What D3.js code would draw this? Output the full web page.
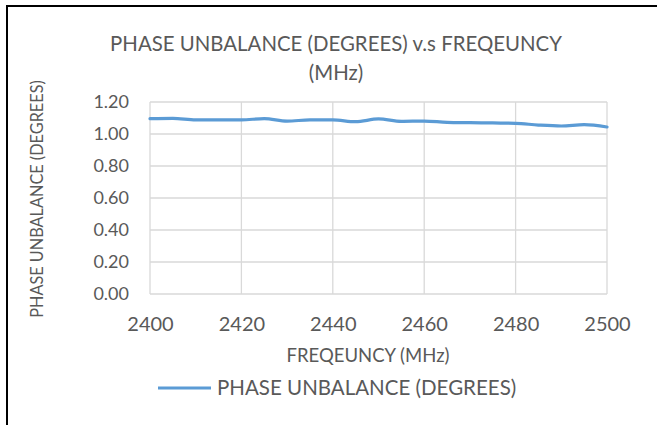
<!DOCTYPE html>
<html><head><meta charset="utf-8">
<script src="https://cdn.jsdelivr.net/npm/d3@7/dist/d3.min.js"></script>
<style>
html,body{margin:0;padding:0;background:#fff;}
svg{display:block;font-family:Lato,"Open Sans",sans-serif;}
</style></head>
<body><svg id="c" width="657" height="425"></svg>
<script>
const frequencies = [2400,2405,2410,2415,2420,2425,2430,2435,2440,2445,2450,2455,2460,2465,2470,2475,2480,2485,2490,2495,2500];
const phaseUnbalance = [1.096,1.098,1.088,1.088,1.088,1.096,1.081,1.088,1.088,1.077,1.094,1.079,1.081,1.073,1.071,1.069,1.067,1.056,1.050,1.058,1.044];
const xTicks = [2400,2420,2440,2460,2480,2500];
const yTicks = [0,0.2,0.4,0.6,0.8,1.0,1.2];
const titleLines = ["PHASE UNBALANCE (DEGREES) v.s FREQEUNCY","(MHz)"];
const xTitle = "FREQEUNCY (MHz)";
const yTitle = "PHASE UNBALANCE (DEGREES)";
const seriesName = "PHASE UNBALANCE (DEGREES)";

const svg = d3.select("#c");
const textColor = "#595959";
const lineColor = "#5b9bd5";
const gridColor = "#d9d9d9";

// frame
svg.append("rect").attr("x",7).attr("y",6).attr("width",700).attr("height",500)
  .attr("fill","none").attr("stroke","#000").attr("stroke-width",2);

const m = {left:150, right:607, top:102, bottom:294};
const x = d3.scaleLinear().domain([2400,2500]).range([m.left,m.right]);
const y = d3.scaleLinear().domain([0,1.2]).range([m.bottom,m.top]);

// grid
svg.append("g").selectAll("line").data(yTicks).join("line")
  .attr("x1",m.left).attr("x2",m.right).attr("y1",d=>y(d)).attr("y2",d=>y(d))
  .attr("stroke",gridColor).attr("stroke-width",1.3);
svg.append("g").selectAll("line").data(xTicks).join("line")
  .attr("x1",d=>x(d)).attr("x2",d=>x(d)).attr("y1",m.top).attr("y2",m.bottom)
  .attr("stroke",gridColor).attr("stroke-width",1.3);

// axes (labels only)
const yAxis = d3.axisLeft(y).tickValues(yTicks).tickFormat(d3.format(".2f")).tickSize(0).tickPadding(21);
const gy = svg.append("g").attr("transform",`translate(${m.left},0)`).call(yAxis);
gy.select(".domain").remove();
gy.selectAll("text").attr("fill",textColor).style("font-size","18px").style("font-family","Lato");

const xAxis = d3.axisBottom(x).tickValues(xTicks).tickFormat(d3.format("d")).tickSize(0).tickPadding(23);
const gx = svg.append("g").attr("transform",`translate(0,${m.bottom})`).call(xAxis);
gx.select(".domain").remove();
gx.selectAll("text").attr("fill",textColor).style("font-size","20px").style("font-family","Lato");

// line
const line = d3.line().x((d,i)=>x(frequencies[i])).y(d=>y(d)).curve(d3.curveMonotoneX);
svg.append("path").datum(phaseUnbalance).attr("d",line)
  .attr("fill","none").attr("stroke",lineColor).attr("stroke-width",3.2).attr("stroke-linecap","round");

// titles
svg.append("g").selectAll("text").data(titleLines).join("text")
  .attr("x",336).attr("y",(d,i)=>51+i*29).attr("text-anchor","middle")
  .attr("fill",textColor).style("font-size","20.4px").text(d=>d);

svg.append("text").attr("x",368).attr("y",362).attr("text-anchor","middle")
  .attr("fill",textColor).style("font-size","18.5px").text(xTitle);

svg.append("text").attr("transform","translate(43,199) rotate(-90)").attr("text-anchor","middle")
  .attr("fill",textColor).style("font-size","16.3px").text(yTitle);

// legend
svg.append("line").attr("x1",158).attr("x2",211).attr("y1",388).attr("y2",388)
  .attr("stroke",lineColor).attr("stroke-width",3.2);
svg.append("text").attr("x",217).attr("y",395).attr("fill",textColor)
  .style("font-size","20.5px").text(seriesName);
</script></body></html>
